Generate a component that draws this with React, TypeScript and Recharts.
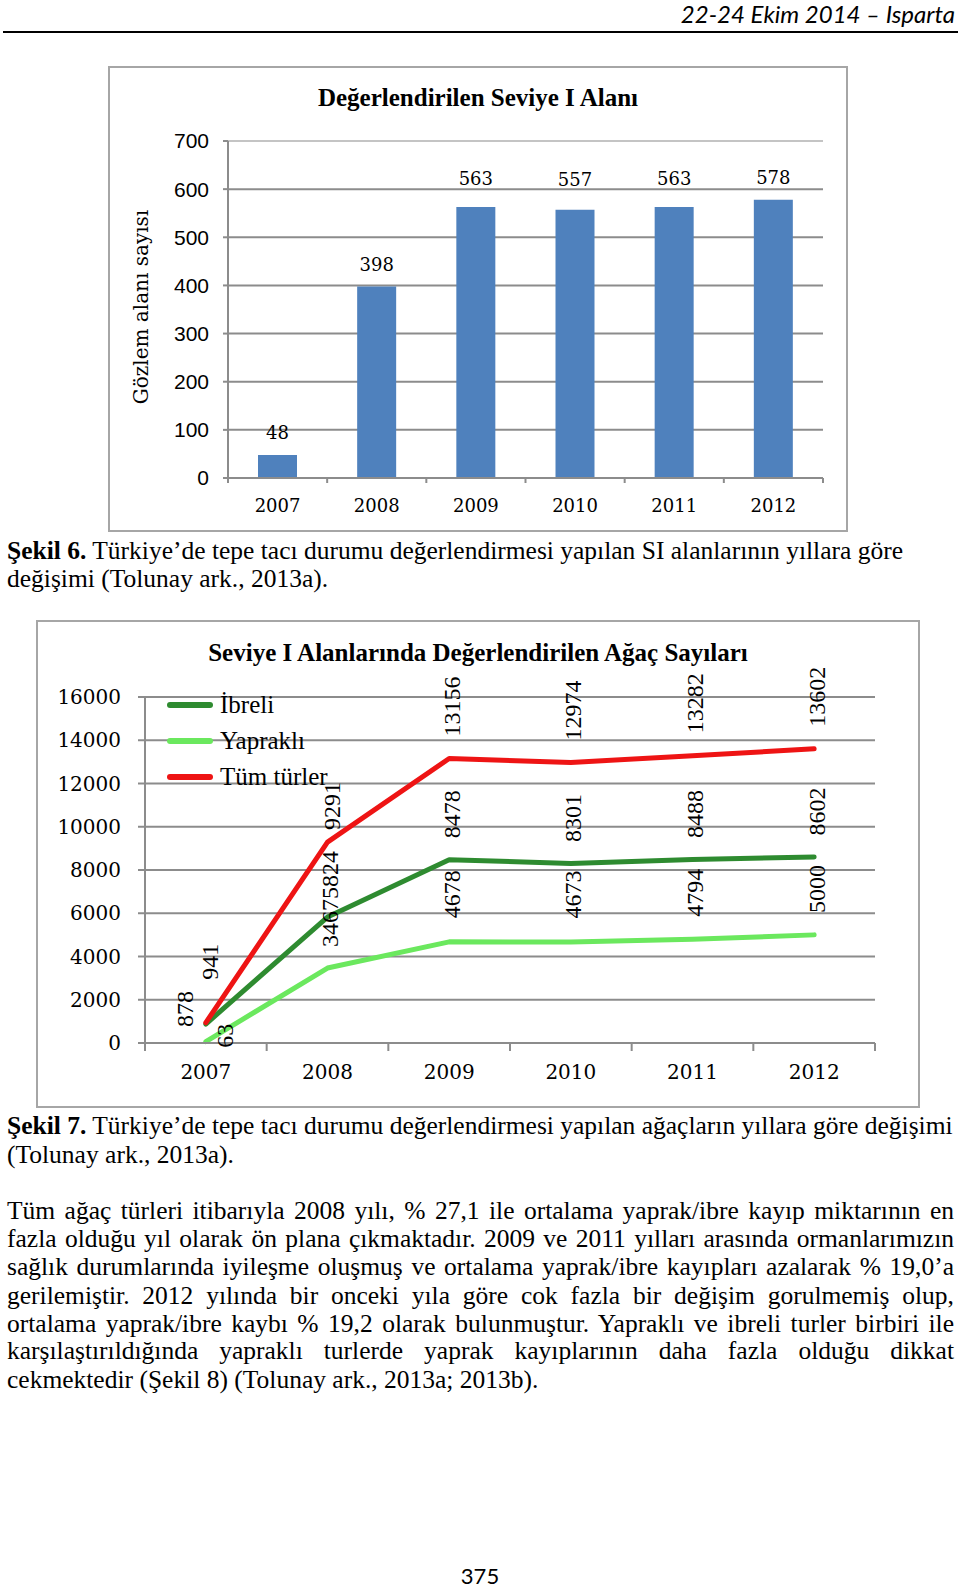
import React from 'react';
import {
  BarChart, Bar, XAxis, YAxis, CartesianGrid, LabelList, Label,
  LineChart, Line, ReferenceLine,
} from 'recharts';

// ---------- data ----------
const years = ['2007', '2008', '2009', '2010', '2011', '2012'];
const siteCounts = [48, 398, 563, 557, 563, 578];
const siteTicks = [0, 100, 200, 300, 400, 500, 600, 700];

const ibreli = [878, 5824, 8478, 8301, 8488, 8602];
const yaprakli = [63, 3467, 4678, 4673, 4794, 5000];
const tumTurler = [941, 9291, 13156, 12974, 13282, 13602];
const treeTicks = [0, 2000, 4000, 6000, 8000, 10000, 12000, 14000, 16000];

const seriesKeys = ['ibreli', 'yaprakli', 'tum'];
const seriesNames = ['İbreli', 'Yapraklı', 'Tüm türler'];
const seriesColors = ['#2E8B30', '#6BE85E', '#EE1414'];

const chart1Title = 'Değerlendirilen Seviye I Alanı';
const chart1YLabel = 'Gözlem alanı sayısı';
const chart2Title = 'Seviye I Alanlarında Değerlendirilen Ağaç Sayıları';

const barData = years.map((y, i) => ({ year: y, count: siteCounts[i] }));
const lineData = years.map((y, i) => ({
  year: y, ibreli: ibreli[i], yaprakli: yaprakli[i], tum: tumTurler[i],
}));

// ---------- styles ----------
const SERIF = "'Liberation Serif', serif";
const DSERIF = "'DejaVu Serif', serif";
const SANS = "'Liberation Sans', Arial, sans-serif";
const GRID = '#8c8c8c';
const LIGHT = '#c4c4c4';

// chart 1 geometry
const C1 = { left: 108, top: 66, width: 740, height: 466 };
const C1M = { top: 75, right: 25, left: 0, bottom: 0 };
const C1Y = 120;
const C1X = 54;
const bw1 = (C1.width - C1M.left - C1Y - C1M.right) / years.length;
const barLabelExtra = [0, 0, 6, 8, 6, 0];

// chart 2 geometry
const C2 = { left: 36, top: 620, width: 884, height: 488 };
const C2M = { top: 77, right: 45, left: 0, bottom: 0 };
const C2Y = 109;
const C2X = 65;
const bw2 = (C2.width - C2M.left - C2Y - C2M.right) / years.length;

// label adjustments [dx of label centre, gap above point]
const lineLabelAdj: Record<string, Array<[number, number]>> = {
  ibreli: [[-21, -3], [2.5, 18], [2.5, 21.5], [2.5, 21.5], [2.5, 21.5], [2.5, 21.5]],
  yaprakli: [[19, -6], [2.5, 21], [2.5, 23.5], [2.5, 23.5], [2.5, 22.5], [2.5, 22]],
  tum: [[4, 43], [5, 12], [2.5, 22], [2.5, 22], [2.5, 22.5], [2.5, 22]],
};

function makeXTick(bw: number, labelDy: number, tickLen: number, font: string, size: number) {
  return (props: any) => {
    const { x, y, payload, index } = props;
    const last = index === years.length - 1;
    return (
      <g>
        <line x1={x - bw / 2} y1={y} x2={x - bw / 2} y2={y + tickLen} stroke={GRID} strokeWidth={2} />
        {last && (
          <line x1={x + bw / 2} y1={y} x2={x + bw / 2} y2={y + tickLen} stroke={GRID} strokeWidth={2} />
        )}
        <text x={x} y={y + labelDy} textAnchor="middle" dominantBaseline="central"
          fontFamily={font} fontSize={size} fill="#000">{payload.value}</text>
      </g>
    );
  };
}

function makeLineLabel(key: string) {
  return (props: any) => {
    const { x, y, value, index } = props;
    const [dx, gap] = lineLabelAdj[key][index] || [2.5, 22];
    const X = x + dx + 8;
    const Y = y - gap;
    return (
      <text x={X} y={Y} transform={`rotate(-90 ${X} ${Y})`} textAnchor="start"
        fontFamily={SERIF} fontSize={24} fill="#000">{value}</text>
    );
  };
}

function Chart1() {
  return (
    <div style={{ position: 'absolute', left: C1.left, top: C1.top, width: C1.width, height: C1.height }}>
      <BarChart width={C1.width} height={C1.height} data={barData} margin={C1M}>
        <CartesianGrid vertical={false} stroke={GRID} strokeWidth={2} />
        <ReferenceLine y={700} stroke={LIGHT} strokeWidth={2} />
        <XAxis dataKey="year" height={C1X} tickLine={false} tickSize={0} tickMargin={0}
          axisLine={{ stroke: GRID, strokeWidth: 2 }}
          tick={makeXTick(bw1, 27, 5, DSERIF, 18)} interval={0} />
        <YAxis width={C1Y} domain={[0, 700]} ticks={siteTicks} interval={0}
          axisLine={{ stroke: GRID, strokeWidth: 2 }}
          tickLine={{ stroke: GRID, strokeWidth: 2 }} tickSize={5} tickMargin={14}
          tick={{ fontFamily: SANS, fontSize: 21, fill: '#000' }}>
          <Label content={() => (
            <text x={33} y={241} transform="rotate(-90 33 241)" textAnchor="middle"
              dominantBaseline="central" fontFamily={DSERIF} fontSize={20} fill="#000">
              {chart1YLabel}
            </text>
          )} />
        </YAxis>
        <YAxis yAxisId="r" orientation="right" width={0} domain={[0, 700]}
          axisLine={{ stroke: LIGHT, strokeWidth: 2 }} tick={false} tickLine={false} />
        <Bar dataKey="count" fill="#4F81BD" barSize={39} isAnimationActive={false}>
          <LabelList dataKey="count" content={(p: any) => (
            <text x={p.x + p.width / 2} y={p.y - 15.5 - (barLabelExtra[p.index] || 0)}
              textAnchor="middle" fontFamily={DSERIF} fontSize={18} fill="#000">{p.value}</text>
          )} />
        </Bar>
      </BarChart>
      <div style={{
        position: 'absolute', left: 0, top: 17, width: C1.width, textAlign: 'center',
        fontFamily: SERIF, fontWeight: 'bold', fontSize: 25, lineHeight: '30px', color: '#000',
      }}>{chart1Title}</div>
      <div style={{
        position: 'absolute', left: 0, top: 0, width: C1.width, height: C1.height,
        border: '2px solid #a6a6a6', boxSizing: 'border-box',
      }} />
    </div>
  );
}

function Chart2() {
  return (
    <div style={{ position: 'absolute', left: C2.left, top: C2.top, width: C2.width, height: C2.height }}>
      <LineChart width={C2.width} height={C2.height} data={lineData} margin={C2M}>
        <CartesianGrid vertical={false} stroke={GRID} strokeWidth={2} />
        <XAxis dataKey="year" height={C2X} tickLine={false} tickSize={0} tickMargin={0}
          padding={{ left: bw2 / 2, right: bw2 / 2 }}
          axisLine={{ stroke: GRID, strokeWidth: 2 }}
          tick={makeXTick(bw2, 29, 8, DSERIF, 20)} interval={0} />
        <YAxis width={C2Y} domain={[0, 16000]} ticks={treeTicks} interval={0}
          axisLine={{ stroke: GRID, strokeWidth: 2 }}
          tickLine={{ stroke: GRID, strokeWidth: 2 }} tickSize={7} tickMargin={17}
          tick={{ fontFamily: DSERIF, fontSize: 20, fill: '#000' }} />
        <YAxis yAxisId="r" orientation="right" width={0} domain={[0, 16000]}
          axisLine={{ stroke: LIGHT, strokeWidth: 2 }} tick={false} tickLine={false} />
        {seriesKeys.map((k, i) => (
          <Line key={k} dataKey={k} name={seriesNames[i]} stroke={seriesColors[i]} strokeWidth={5}
            strokeLinecap="round" strokeLinejoin="round" dot={false} activeDot={false}
            type="linear" isAnimationActive={false}>
            <LabelList dataKey={k} content={makeLineLabel(k)} />
          </Line>
        ))}
      </LineChart>
      <div style={{
        position: 'absolute', left: 0, top: 18, width: C2.width, textAlign: 'center',
        fontFamily: SERIF, fontWeight: 'bold', fontSize: 25, lineHeight: '30px', color: '#000',
      }}>{chart2Title}</div>
      <div style={{ position: 'absolute', left: 131, top: 67 }}>
        {seriesNames.map((n, i) => (
          <div key={n} style={{ display: 'flex', alignItems: 'center', height: 36 }}>
            <div style={{ width: 46, height: 6, borderRadius: 3, background: seriesColors[i] }} />
            <span style={{ marginLeft: 7, fontFamily: SERIF, fontSize: 25, color: '#000', lineHeight: '30px' }}>{n}</span>
          </div>
        ))}
      </div>
      <div style={{
        position: 'absolute', left: 0, top: 0, width: C2.width, height: C2.height,
        border: '2px solid #a6a6a6', boxSizing: 'border-box',
      }} />
    </div>
  );
}

const textStyle: React.CSSProperties = {
  position: 'absolute', fontFamily: SERIF, fontSize: 25.5, lineHeight: '28px', color: '#000',
  whiteSpace: 'nowrap',
};

const paraLines = [
  'Tüm ağaç türleri itibarıyla 2008 yılı,  % 27,1 ile ortalama yaprak/ibre kayıp miktarının en',
  'fazla olduğu yıl olarak ön plana çıkmaktadır. 2009 ve 2011 yılları arasında ormanlarımızın',
  'sağlık durumlarında iyileşme oluşmuş ve ortalama yaprak/ibre kayıpları azalarak % 19,0’a',
  'gerilemiştir. 2012 yılında bir onceki yıla göre cok fazla bir değişim gorulmemiş olup,',
  'ortalama yaprak/ibre kaybı % 19,2 olarak bulunmuştur. Yapraklı ve ibreli turler birbiri ile',
  'karşılaştırıldığında yapraklı turlerde yaprak kayıplarının daha fazla olduğu dikkat',
  'cekmektedir (Şekil 8) (Tolunay ark., 2013a;  2013b).',
];
const paraCentres = [1211, 1239, 1267, 1296, 1324, 1351, 1380];

export default function App() {
  return (
    <div style={{ position: 'absolute', left: 0, top: 0, width: 960, height: 1589, background: '#fff', overflow: 'hidden' }}>
      <div style={{
        position: 'absolute', right: 5, top: 0, fontFamily: "Lato, 'Open Sans', sans-serif",
        fontStyle: 'italic', fontSize: 24, lineHeight: '28px', color: '#000',
      }}>22-24 Ekim 2014 – Isparta</div>
      <div style={{ position: 'absolute', left: 3, top: 31, width: 955, height: 2, background: '#000' }} />

      <Chart1 />

      <div style={{ ...textStyle, left: 7, top: 551 - 14 }}>
        <b>Şekil 6.</b> Türkiye’de tepe tacı durumu değerlendirmesi yapılan SI alanlarının yıllara göre
      </div>
      <div style={{ ...textStyle, left: 7, top: 579 - 14 }}>değişimi (Tolunay ark., 2013a).</div>

      <Chart2 />

      <div style={{ ...textStyle, left: 7, top: 1126 - 14 }}>
        <b>Şekil 7.</b> Türkiye’de tepe tacı durumu değerlendirmesi yapılan ağaçların yıllara göre değişimi
      </div>
      <div style={{ ...textStyle, left: 7, top: 1155 - 14 }}>(Tolunay ark., 2013a).</div>

      {paraLines.map((t, i) => (
        <div key={i} style={{
          ...textStyle, left: 7, top: paraCentres[i] - 14, width: 947,
          textAlign: 'justify', textAlignLast: i === paraLines.length - 1 ? 'left' : 'justify',
        }}>{t}</div>
      ))}

      <div style={{
        position: 'absolute', left: 0, width: 960, top: 1563, textAlign: 'center',
        fontFamily: "Lato, sans-serif", fontSize: 22, lineHeight: '26px', color: '#000',
      }}>375</div>
    </div>
  );
}
